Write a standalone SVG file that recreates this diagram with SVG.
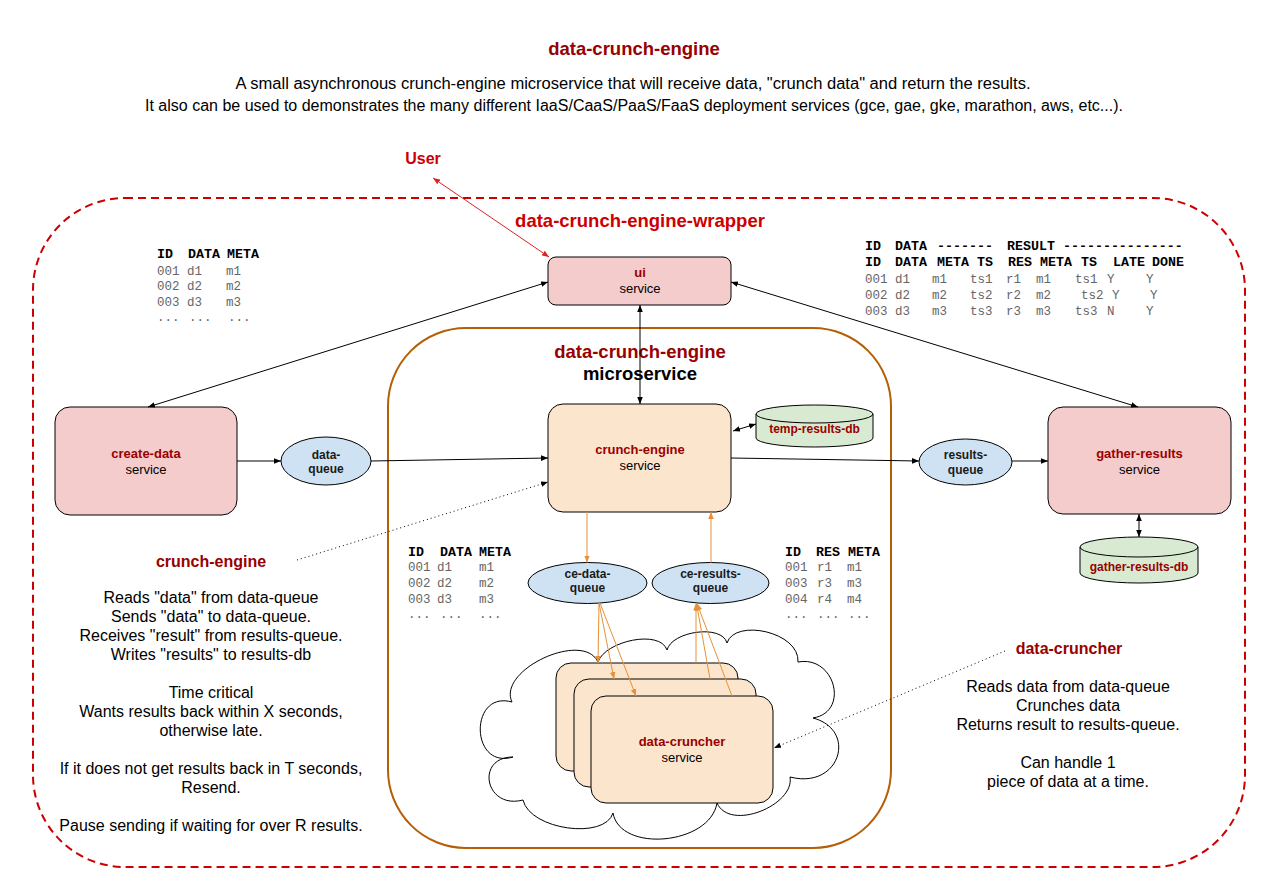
<svg xmlns="http://www.w3.org/2000/svg" width="1268" height="892" viewBox="0 0 1268 892">
<style>
text{font-family:"Liberation Sans",Arial,sans-serif}
.mono{font-family:"Liberation Mono","Courier New",monospace}
.th{font-size:13.3px;font-weight:bold;fill:#000}
.tr{font-size:12.5px;fill:#666}
.lbl{font-size:13px;font-weight:bold;fill:#990000;text-anchor:middle}
.svc{font-size:13px;fill:#000;text-anchor:middle}
.q{font-size:12px;font-weight:bold;fill:#1a1a1a;text-anchor:middle}
.db{font-size:12px;font-weight:bold;fill:#990000;text-anchor:middle}
.note{font-size:16px;fill:#000;text-anchor:middle}
.noteh{font-size:16px;font-weight:bold;fill:#990000;text-anchor:middle}
.pink{fill:#f4cccc;stroke:#000;stroke-width:1}
.peach{fill:#fce5cd;stroke:#000;stroke-width:1}
.queue{fill:#cfe2f3;stroke:#000;stroke-width:1}
.cyl{fill:#d9ead3;stroke:#000;stroke-width:1}
.c{fill:none;stroke:#000;stroke-width:1}
.co{fill:none;stroke:#e69138;stroke-width:1}
.cr{fill:none;stroke:#dd2222;stroke-width:1}
.dot{fill:none;stroke:#000;stroke-width:1;stroke-dasharray:1 3}
</style>
<defs>
<marker id="ab" viewBox="0 0 10 10" refX="10" refY="5" markerWidth="7" markerHeight="7" markerUnits="userSpaceOnUse" orient="auto-start-reverse"><path d="M0,1 L10,5 L0,9 z" fill="#000"/></marker>
<marker id="ao" viewBox="0 0 10 10" refX="10" refY="5" markerWidth="7" markerHeight="7" markerUnits="userSpaceOnUse" orient="auto-start-reverse"><path d="M0,1 L10,5 L0,9 z" fill="#e69138"/></marker>
<marker id="ar" viewBox="0 0 10 10" refX="10" refY="5" markerWidth="7" markerHeight="7" markerUnits="userSpaceOnUse" orient="auto-start-reverse"><path d="M0,1 L10,5 L0,9 z" fill="#dd2222"/></marker>
</defs>
<rect x="0" y="0" width="1268" height="892" fill="#fff"/>

<g id="header">
<text x="634" y="55" font-size="18.5" font-weight="bold" fill="#990000" text-anchor="middle">data-crunch-engine</text>
<text x="633" y="89" font-size="16" fill="#000" text-anchor="middle" textLength="795" lengthAdjust="spacingAndGlyphs">A small asynchronous crunch-engine microservice that will receive data, "crunch data" and return the results.</text>
<text x="634" y="111" font-size="16" fill="#000" text-anchor="middle" textLength="978" lengthAdjust="spacingAndGlyphs">It also can be used to demonstrates the many different IaaS/CaaS/PaaS/FaaS deployment services (gce, gae, gke, marathon, aws, etc...).</text>
</g>

<g id="wrapper">
<rect x="33" y="198" width="1212" height="669" rx="92" fill="none" stroke="#cc0000" stroke-width="2" stroke-dasharray="8 5"/>
<text x="640" y="227" font-size="18.5" font-weight="bold" fill="#cc0000" text-anchor="middle">data-crunch-engine-wrapper</text>
</g>

<g id="user">
<text x="423" y="164" font-size="16" font-weight="bold" fill="#cc0000" text-anchor="middle">User</text>
</g>

<g id="microservice">
<rect x="388" y="328" width="503" height="520" rx="78" fill="none" stroke="#b45f06" stroke-width="2"/>
<text x="640" y="358" font-size="18.5" font-weight="bold" fill="#990000" text-anchor="middle">data-crunch-engine</text>
<text x="640" y="380" font-size="18.5" font-weight="bold" fill="#000" text-anchor="middle">microservice</text>
</g>

<g id="table-data">
<text class="mono th" y="258"><tspan x="157">ID</tspan><tspan x="188">DATA</tspan><tspan x="227">META</tspan></text>
<text class="mono tr" y="275"><tspan x="157">001</tspan><tspan x="187">d1</tspan><tspan x="226">m1</tspan></text>
<text class="mono tr" y="290"><tspan x="157">002</tspan><tspan x="187">d2</tspan><tspan x="226">m2</tspan></text>
<text class="mono tr" y="306"><tspan x="157">003</tspan><tspan x="187">d3</tspan><tspan x="226">m3</tspan></text>
<text class="mono tr" y="321"><tspan x="157">...</tspan><tspan x="189">...</tspan><tspan x="228">...</tspan></text>
</g>

<g id="table-results">
<text class="mono th" y="250"><tspan x="865">ID</tspan><tspan x="895">DATA</tspan><tspan x="937">-------</tspan><tspan x="1007">RESULT</tspan><tspan x="1063">---------------</tspan></text>
<text class="mono th" y="266"><tspan x="865">ID</tspan><tspan x="895">DATA</tspan><tspan x="937">META</tspan><tspan x="977">TS</tspan><tspan x="1008">RES</tspan><tspan x="1040">META</tspan><tspan x="1081">TS</tspan><tspan x="1113">LATE</tspan><tspan x="1152">DONE</tspan></text>
<text class="mono tr" y="283"><tspan x="865">001</tspan><tspan x="895">d1</tspan><tspan x="932">m1</tspan><tspan x="970">ts1</tspan><tspan x="1006">r1</tspan><tspan x="1036">m1</tspan><tspan x="1075">ts1</tspan><tspan x="1107">Y</tspan><tspan x="1146">Y</tspan></text>
<text class="mono tr" y="299"><tspan x="865">002</tspan><tspan x="895">d2</tspan><tspan x="932">m2</tspan><tspan x="970">ts2</tspan><tspan x="1006">r2</tspan><tspan x="1036">m2</tspan><tspan x="1081">ts2</tspan><tspan x="1112">Y</tspan><tspan x="1150">Y</tspan></text>
<text class="mono tr" y="315"><tspan x="865">003</tspan><tspan x="895">d3</tspan><tspan x="932">m3</tspan><tspan x="970">ts3</tspan><tspan x="1006">r3</tspan><tspan x="1036">m3</tspan><tspan x="1075">ts3</tspan><tspan x="1107">N</tspan><tspan x="1146">Y</tspan></text>
</g>

<g id="table-ce-data">
<text class="mono th" y="556"><tspan x="408">ID</tspan><tspan x="440">DATA</tspan><tspan x="479">META</tspan></text>
<text class="mono tr" y="571"><tspan x="408">001</tspan><tspan x="437">d1</tspan><tspan x="479">m1</tspan></text>
<text class="mono tr" y="587"><tspan x="408">002</tspan><tspan x="437">d2</tspan><tspan x="479">m2</tspan></text>
<text class="mono tr" y="603"><tspan x="408">003</tspan><tspan x="437">d3</tspan><tspan x="479">m3</tspan></text>
<text class="mono tr" y="618"><tspan x="408">...</tspan><tspan x="440">...</tspan><tspan x="479">...</tspan></text>
</g>

<g id="table-ce-results">
<text class="mono th" y="556"><tspan x="785">ID</tspan><tspan x="816">RES</tspan><tspan x="848">META</tspan></text>
<text class="mono tr" y="571"><tspan x="785">001</tspan><tspan x="817">r1</tspan><tspan x="847">m1</tspan></text>
<text class="mono tr" y="587"><tspan x="785">003</tspan><tspan x="817">r3</tspan><tspan x="847">m3</tspan></text>
<text class="mono tr" y="603"><tspan x="785">004</tspan><tspan x="817">r4</tspan><tspan x="847">m4</tspan></text>
<text class="mono tr" y="618"><tspan x="785">...</tspan><tspan x="817">...</tspan><tspan x="848">...</tspan></text>
</g>

<g id="ui">
<rect class="pink" x="548" y="257" width="183" height="48" rx="8"/>
<text class="lbl" x="640" y="277">ui</text>
<text class="svc" x="640" y="293">service</text>
</g>

<g id="create-data">
<rect class="pink" x="55" y="407" width="182" height="108" rx="15"/>
<text class="lbl" x="146" y="458">create-data</text>
<text class="svc" x="146" y="474">service</text>
</g>

<g id="data-queue">
<ellipse class="queue" cx="326" cy="461" rx="45" ry="24"/>
<text class="q" x="326" y="459">data-</text>
<text class="q" x="326" y="473">queue</text>
</g>

<g id="crunch-engine">
<rect class="peach" x="548" y="404" width="183" height="108" rx="15"/>
<text class="lbl" x="640" y="454">crunch-engine</text>
<text class="svc" x="640" y="470">service</text>
</g>

<g id="temp-results-db">
<path class="cyl" d="M756,414 A58.5,9 0 0 1 873,414 V438 A58.5,9 0 0 1 756,438 Z"/>
<path class="c" d="M756,414 A58.5,9 0 0 0 873,414"/>
<text class="db" x="814.5" y="433">temp-results-db</text>
</g>

<g id="results-queue">
<ellipse class="queue" cx="965.5" cy="462" rx="46.5" ry="23"/>
<text class="q" x="965.5" y="459">results-</text>
<text class="q" x="965.5" y="474">queue</text>
</g>

<g id="gather-results">
<rect class="pink" x="1048" y="407" width="183" height="107" rx="15"/>
<text class="lbl" x="1139.5" y="458">gather-results</text>
<text class="svc" x="1139.5" y="474">service</text>
</g>

<g id="gather-results-db">
<path class="cyl" d="M1080,547 A59,10 0 0 1 1198,547 V573 A59,10 0 0 1 1080,573 Z"/>
<path class="c" d="M1080,547 A59,10 0 0 0 1198,547"/>
<text class="db" x="1139" y="571">gather-results-db</text>
</g>

<g id="ce-data-queue">
<ellipse class="queue" cx="587.5" cy="583" rx="59.5" ry="20.5"/>
<text class="q" x="587.5" y="578">ce-data-</text>
<text class="q" x="587.5" y="592">queue</text>
</g>

<g id="ce-results-queue">
<ellipse class="queue" cx="710.5" cy="583" rx="58.5" ry="20.5"/>
<text class="q" x="710.5" y="578">ce-results-</text>
<text class="q" x="710.5" y="592">queue</text>
</g>

<g id="cloud">
<path d="M513,757 C470,770 469,690 512,702 C497,670 583,630 598,662 C605,641 660,629 667,650 C672,631 722,624 727,643 C735,618 800,632 798,662 C835,655 850,712 813,718 C858,730 840,790 790,777 C795,805 730,832 717,803 C710,845 620,853 613,813 C605,840 530,830 523,800 C485,810 475,757 513,757 Z" fill="#fff" stroke="#000" stroke-width="1"/>
</g>

<g id="data-cruncher">
<rect class="peach" x="556" y="663" width="182" height="108" rx="15"/>
<rect class="peach" x="574" y="679" width="182" height="108" rx="15"/>
<rect class="peach" x="591" y="696" width="182" height="107" rx="15"/>
<text class="lbl" x="682" y="746">data-cruncher</text>
<text class="svc" x="682" y="762">service</text>
</g>

<g id="note-crunch-engine">
<text class="noteh" x="211" y="567">crunch-engine</text>
<text class="note" x="211" y="603">Reads "data" from data-queue</text>
<text class="note" x="211" y="622">Sends "data" to data-queue.</text>
<text class="note" x="211" y="641">Receives "result" from results-queue.</text>
<text class="note" x="211" y="660">Writes "results" to results-db</text>
<text class="note" x="211" y="698">Time critical</text>
<text class="note" x="211" y="717">Wants results back within X seconds,</text>
<text class="note" x="211" y="736">otherwise late.</text>
<text class="note" x="211" y="774">If it does not get results back in T seconds,</text>
<text class="note" x="211" y="793">Resend.</text>
<text class="note" x="211" y="831">Pause sending if waiting for over R results.</text>
</g>

<g id="note-data-cruncher">
<text class="noteh" x="1069" y="654">data-cruncher</text>
<text class="note" x="1068" y="692">Reads data from data-queue</text>
<text class="note" x="1068" y="711">Crunches data</text>
<text class="note" x="1068" y="730">Returns result to results-queue.</text>
<text class="note" x="1068" y="768">Can handle 1</text>
<text class="note" x="1068" y="787">piece of data at a time.</text>
</g>

<g id="connectors">
<line class="cr" x1="433" y1="178" x2="549" y2="257" marker-start="url(#ar)" marker-end="url(#ar)"/>
<line class="c" x1="548" y1="282" x2="148" y2="407" marker-start="url(#ab)" marker-end="url(#ab)"/>
<line class="c" x1="731" y1="282" x2="1138" y2="407" marker-start="url(#ab)" marker-end="url(#ab)"/>
<line class="c" x1="640" y1="305" x2="640" y2="404" marker-start="url(#ab)" marker-end="url(#ab)"/>
<line class="c" x1="237" y1="461" x2="281" y2="461" marker-end="url(#ab)"/>
<line class="c" x1="371" y1="461" x2="548" y2="458" marker-end="url(#ab)"/>
<line class="c" x1="731" y1="458" x2="919" y2="461" marker-end="url(#ab)"/>
<line class="c" x1="1012" y1="461" x2="1048" y2="461" marker-end="url(#ab)"/>
<line class="c" x1="1139" y1="514" x2="1139" y2="537" marker-start="url(#ab)" marker-end="url(#ab)"/>
<line class="c" x1="733" y1="431" x2="756" y2="424" marker-start="url(#ab)" marker-end="url(#ab)"/>
<line class="co" x1="587" y1="512" x2="587" y2="562.5" marker-end="url(#ao)"/>
<line class="co" x1="711" y1="562.5" x2="711" y2="512" marker-end="url(#ao)"/>
<line class="co" x1="599" y1="603" x2="598" y2="663" marker-end="url(#ao)"/>
<line class="co" x1="599" y1="603" x2="614" y2="679" marker-end="url(#ao)"/>
<line class="co" x1="600" y1="603" x2="636" y2="696" marker-end="url(#ao)"/>
<line class="co" x1="696" y1="663" x2="696" y2="603.5" marker-end="url(#ao)"/>
<line class="co" x1="710" y1="679" x2="696.5" y2="603.5" marker-end="url(#ao)"/>
<line class="co" x1="732" y1="696" x2="697" y2="603.5" marker-end="url(#ao)"/>
<line class="dot" x1="297" y1="560" x2="548" y2="482" marker-end="url(#ab)"/>
<line class="dot" x1="1005" y1="651" x2="774" y2="748" marker-end="url(#ab)"/>
</g>
</svg>
